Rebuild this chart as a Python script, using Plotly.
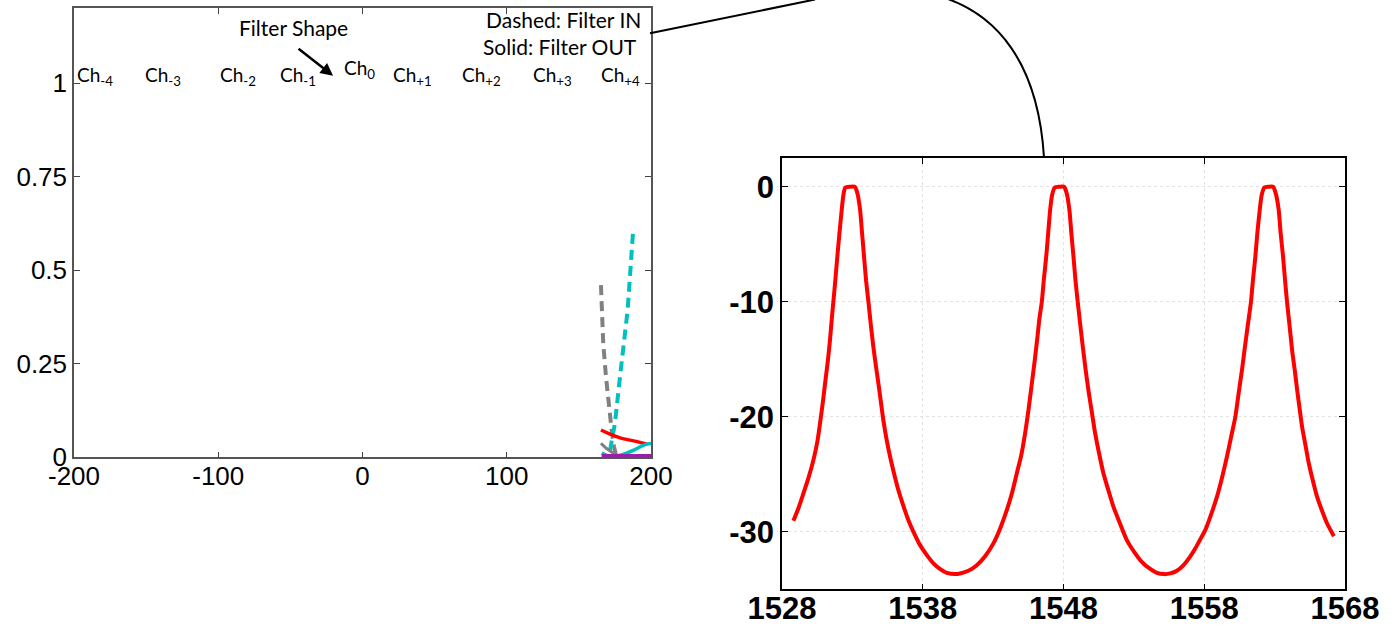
import plotly.graph_objects as go

W, H = 1396, 626

# ---------------- Left panel data ----------------
left_xticks = [-200, -100, 0, 100, 200]
left_xticklabels = ["-200", "-100", "0", "100", "200"]
left_yticks = [0, 0.25, 0.5, 0.75, 1]
left_yticklabels = ["0", "0.25", "0.5", "0.75", "1"]

gray_dash_x = [165.3, 165.8, 166.9, 168.8, 171.1, 172.7, 174.4, 175.7]
gray_dash_y = [0.46, 0.393, 0.304, 0.215, 0.126, 0.073, 0.028, 0.006]
cyan_dash_x = [171.6, 175.0, 178.5, 181.5, 183.8, 185.4, 187.0, 187.7]
cyan_dash_y = [0.018, 0.091, 0.215, 0.304, 0.393, 0.482, 0.562, 0.611]
red_solid_x = [165.3, 171.6, 178.5, 185.4, 192.3, 197.4]
red_solid_y = [0.073, 0.062, 0.052, 0.046, 0.040, 0.035]
gray_solid_x = [165.3, 169.0, 173.9, 177.0]
gray_solid_y = [0.037, 0.024, 0.011, 0.004]
cyan_solid_x = [165.8, 169.5, 173.9, 178.0, 183.1, 188.0, 192.4, 196.0, 200.0]
cyan_solid_y = [0.011, 0.005, 0.002, 0.005, 0.011, 0.019, 0.028, 0.034, 0.037]
purple_solid_x = [165.8, 200.0]
purple_solid_y = [0.002, 0.002]

ch_labels = ["Ch<sub>-4</sub>", "Ch<sub>-3</sub>", "Ch<sub>-2</sub>", "Ch<sub>-1</sub>",
             "Ch<sub>0</sub>", "Ch<sub>+1</sub>", "Ch<sub>+2</sub>", "Ch<sub>+3</sub>",
             "Ch<sub>+4</sub>"]
ch_x = [-185.5, -138.5, -86.5, -45.0, -2.0, 34.5, 82.5, 132.0, 179.0]
ch_y = [1.019, 1.019, 1.019, 1.019, 1.037, 1.019, 1.019, 1.019, 1.019]

# ---------------- Right panel data ----------------
right_xticks = [1528, 1538, 1548, 1558, 1568]
right_xticklabels = ["1528", "1538", "1548", "1558", "1568"]
right_yticks = [0, -10, -20, -30]
right_yticklabels = ["0", "-10", "-20", "-30"]

wavelength = [
    1528.81, 1529.16, 1529.52, 1529.87, 1530.23, 1530.51, 1530.70, 1530.89, 1531.06, 1531.25,
    1531.41, 1531.53, 1531.65, 1531.79, 1531.93, 1532.08, 1532.24, 1532.36, 1532.50, 1532.83,
    1533.17, 1533.36, 1533.55, 1533.69, 1533.83, 1533.97, 1534.14, 1534.30, 1534.49, 1534.68,
    1534.85, 1535.04, 1535.20, 1535.44, 1535.68, 1535.96, 1536.27, 1536.63, 1536.98, 1537.34,
    1537.81, 1538.29, 1538.76, 1539.24, 1539.71, 1540.30, 1540.65, 1541.24, 1541.84, 1542.43,
    1543.02, 1543.50, 1543.97, 1544.33, 1544.68, 1545.00, 1545.27, 1545.51, 1545.75, 1545.96,
    1546.15, 1546.29, 1546.46, 1546.60, 1546.77, 1546.91, 1547.05, 1547.19, 1547.38, 1547.71,
    1548.04, 1548.23, 1548.42, 1548.56, 1548.71, 1548.85, 1549.01, 1549.18, 1549.37, 1549.56,
    1549.77, 1550.01, 1550.25, 1550.53, 1550.84, 1551.20, 1551.55, 1552.03, 1552.50, 1553.02,
    1553.56, 1554.11, 1554.63, 1555.15, 1555.58, 1556.06, 1556.53, 1556.96, 1557.36, 1557.71,
    1558.07, 1558.47, 1558.90, 1559.25, 1559.61, 1559.91, 1560.21, 1560.44, 1560.68, 1560.89,
    1561.08, 1561.32, 1561.46, 1561.63, 1561.77, 1561.94, 1562.08, 1562.27, 1562.58, 1562.89,
    1563.08, 1563.29, 1563.43, 1563.60, 1563.74, 1563.88, 1564.07, 1564.24, 1564.43, 1564.60,
    1564.79, 1564.95, 1565.19, 1565.43, 1565.71, 1566.02, 1566.37, 1566.73, 1567.21,
]
transmission_db = [
    -29.04, -27.97, -26.67, -25.36, -23.77, -22.17, -20.58, -18.84, -17.10, -15.22,
    -13.33, -11.59, -10.00, -8.12, -6.09, -4.06, -2.03, -0.72, -0.06, 0.00,
    0.00, -0.58, -2.03, -4.06, -6.09, -8.12, -10.00, -11.88, -13.91, -15.65,
    -17.10, -18.84, -20.29, -22.03, -23.48, -24.93, -26.38, -27.77, -28.99, -30.00,
    -31.16, -32.03, -32.75, -33.25, -33.57, -33.68, -33.62, -33.39, -32.90, -32.12,
    -31.01, -29.71, -28.12, -26.67, -24.93, -23.33, -21.45, -19.42, -17.10, -15.07,
    -13.04, -11.45, -10.00, -8.12, -6.09, -4.06, -2.03, -0.72, -0.06, 0.00,
    0.00, -0.58, -2.03, -4.06, -6.09, -8.12, -10.00, -11.88, -13.91, -15.80,
    -17.68, -19.57, -21.45, -23.19, -24.93, -26.43, -27.83, -29.33, -30.72, -31.74,
    -32.61, -33.19, -33.57, -33.68, -33.62, -33.39, -32.90, -32.23, -31.45, -30.67,
    -29.86, -28.55, -26.96, -25.36, -23.48, -21.74, -20.00, -17.97, -15.94, -13.91,
    -12.17, -10.00, -8.12, -6.09, -4.06, -2.03, -0.72, -0.06, 0.00, 0.00,
    -0.58, -2.03, -4.06, -6.09, -8.12, -10.00, -12.17, -14.20, -15.94, -17.68,
    -19.42, -20.87, -22.46, -24.06, -25.51, -26.96, -28.17, -29.28, -30.38,
]

fig = go.Figure()

DASH = "10px,6px"
fig.add_trace(go.Scatter(x=gray_dash_x, y=gray_dash_y, mode="lines",
                         line=dict(color="#808080", width=4, dash=DASH), xaxis="x", yaxis="y"))
fig.add_trace(go.Scatter(x=cyan_dash_x, y=cyan_dash_y, mode="lines",
                         line=dict(color="#00bfbf", width=4, dash=DASH), xaxis="x", yaxis="y"))
fig.add_trace(go.Scatter(x=gray_solid_x, y=gray_solid_y, mode="lines",
                         line=dict(color="#808080", width=3), xaxis="x", yaxis="y"))
fig.add_trace(go.Scatter(x=red_solid_x, y=red_solid_y, mode="lines", line_shape="spline",
                         line=dict(color="#ff0000", width=3.5), xaxis="x", yaxis="y"))
fig.add_trace(go.Scatter(x=cyan_solid_x, y=cyan_solid_y, mode="lines", line_shape="spline",
                         line=dict(color="#00bfbf", width=3.5), xaxis="x", yaxis="y"))
fig.add_trace(go.Scatter(x=purple_solid_x, y=purple_solid_y, mode="lines",
                         line=dict(color="#9a1fa8", width=5), xaxis="x", yaxis="y"))

fig.add_trace(go.Scatter(x=wavelength, y=transmission_db, mode="lines",
                         line=dict(color="#ff0000", width=4, shape="spline", smoothing=0.6),
                         xaxis="x2", yaxis="y2"))

ch_font = dict(family="Lato", size=19, color="black")
ann_font = dict(family="Lato", size=21, color="black")
annotations = []
for lbl, xx, yy in zip(ch_labels, ch_x, ch_y):
    annotations.append(dict(x=xx, y=yy, xref="x", yref="y", text=lbl, showarrow=False,
                            font=ch_font, xanchor="center", yanchor="middle"))
annotations.append(dict(x=-47.5, y=1.150, xref="x", yref="y", text="Filter Shape",
                        showarrow=False, font=ann_font, xanchor="center", yanchor="middle"))
annotations.append(dict(x=-20.4, y=1.020, xref="x", yref="y", text="", showarrow=True,
                        ax=-36, ay=-28, arrowhead=2, arrowsize=1, arrowwidth=2.5,
                        arrowcolor="black"))
annotations.append(dict(x=194.5, y=1.169, xref="x", yref="y", text="Dashed: Filter IN",
                        showarrow=False, font=ann_font, xanchor="right", yanchor="middle"))
annotations.append(dict(x=191.8, y=1.099, xref="x", yref="y", text="Solid: Filter OUT",
                        showarrow=False, font=ann_font, xanchor="right", yanchor="middle"))


def px(xp):
    return xp / W


def py(yp):
    return 1 - yp / H


shapes = [
    dict(type="line", xref="paper", yref="paper", x0=px(650), y0=py(33.3), x1=px(815), y1=py(-0.5),
         line=dict(color="black", width=2)),
    dict(type="path", xref="paper", yref="paper",
         path=f"M {px(948)},{py(-1)} C {px(995)},{py(16)} {px(1038)},{py(60)} {px(1044)},{py(157.5)}",
         line=dict(color="black", width=2)),
]

left_font = dict(family="Liberation Sans", size=26, color="black")
right_font = dict(family="Liberation Sans", size=31, color="black", weight="bold")

fig.update_layout(
    width=W, height=H, autosize=False, template="none",
    margin=dict(l=0, r=0, t=0, b=0, pad=0),
    paper_bgcolor="white", plot_bgcolor="white", showlegend=False,
    annotations=annotations, shapes=shapes,
    xaxis=dict(domain=[px(74), px(651)], range=[-200, 200], anchor="y",
               tickmode="array", tickvals=left_xticks, ticktext=left_xticklabels,
               ticks="inside", ticklen=6, tickwidth=1, tickcolor="#444",
               showline=True, linecolor="#555", linewidth=1.5, mirror="ticks",
               showgrid=False, zeroline=False, tickfont=left_font, automargin=False,
               ticklabelstandoff=-5),
    yaxis=dict(domain=[py(457.3), py(8.3)], range=[0, 1.2], anchor="x",
               tickmode="array", tickvals=left_yticks, ticktext=left_yticklabels,
               ticks="inside", ticklen=6, tickwidth=1, tickcolor="#444",
               showline=True, linecolor="#555", linewidth=1.5, mirror="ticks",
               showgrid=False, zeroline=False, tickfont=left_font, automargin=False),
    xaxis2=dict(domain=[px(782), px(1345)], range=[1528, 1568], anchor="y2",
                tickmode="array", tickvals=right_xticks, ticktext=right_xticklabels,
                ticks="inside", ticklen=6, tickwidth=1, tickcolor="black",
                showline=True, linecolor="black", linewidth=1.5, mirror="ticks",
                showgrid=True, gridcolor="#e2e2e2", griddash="dot", gridwidth=1,
                zeroline=False, tickfont=right_font, automargin=False,
                ticklabelstandoff=-9),
    yaxis2=dict(domain=[py(589.3), py(158)], range=[-35, 2.5], anchor="x2",
                tickmode="array", tickvals=right_yticks, ticktext=right_yticklabels,
                ticks="inside", ticklen=6, tickwidth=1, tickcolor="black",
                showline=True, linecolor="black", linewidth=1.5, mirror="ticks",
                showgrid=True, gridcolor="#e2e2e2", griddash="dot", gridwidth=1,
                zeroline=False, tickfont=right_font, automargin=False),
)

fig.write_html("out.html", config={"displayModeBar": False},
               post_script="document.body.style.margin='0';document.body.style.overflow='hidden';")
